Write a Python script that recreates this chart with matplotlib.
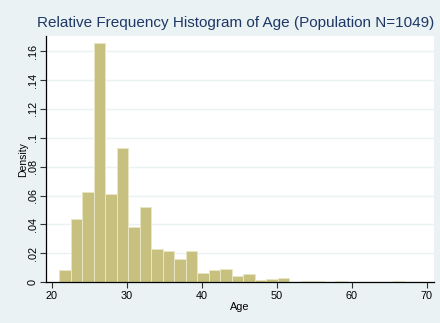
import numpy as np
import matplotlib
matplotlib.use("Agg")
import matplotlib.pyplot as plt

plt.rcParams['font.family'] = ['Liberation Sans', 'DejaVu Sans']

# Data
bin_start = 21.0
bin_end = 67.0
n_bins = 30
counts = [14, 70, 101, 266, 98, 149, 62, 84, 37, 35,
          26, 35, 10, 14, 15, 7, 9, 3, 4, 5,
          0, 1, 1, 0, 1, 0, 0, 0, 0, 1]
N = 1049
x_ticks = [20, 30, 40, 50, 60, 70]
y_ticks = [0, 0.02, 0.04, 0.06, 0.08, 0.10, 0.12, 0.14, 0.16]
y_tick_labels = ["0", ".02", ".04", ".06", ".08", ".1", ".12", ".14", ".16"]
title = "Relative Frequency Histogram of Age (Population N=1049)"

bg = "#EAF2F3"
bar_color = "#C8C07E"
edge_color = "#E9E6C6"
title_color = "#1E3766"

edges = np.linspace(bin_start, bin_end, n_bins + 1)
width = edges[1] - edges[0]
density = np.array(counts) / (N * width)

fig = plt.figure(figsize=(4.4, 3.23), dpi=100, facecolor=bg)
ax = fig.add_axes([46/440, 1 - 282.3/323, (434-46)/440, (282.3-36)/323])
ax.set_facecolor("white")

ax.bar(edges[:-1], density, width=width, align='edge', color=bar_color,
       edgecolor=edge_color, linewidth=0.7, zorder=3)

ax.set_xlim(19.2, 71.0)
ax.set_ylim(0, 0.1704)
ax.set_xticks(x_ticks)
ax.set_yticks(y_ticks)
ax.set_yticklabels(y_tick_labels, rotation=90, va='center')
ax.tick_params(axis='both', direction='out', length=4, width=0.8,
               color='#333333', labelsize=7.8, labelcolor='black', pad=2)

ax.grid(axis='y', color=bg, linewidth=1.0, zorder=0)
ax.set_axisbelow(True)
for s in ['top', 'right']:
    ax.spines[s].set_visible(False)
for s in ['left', 'bottom']:
    ax.spines[s].set_linewidth(0.9)
    ax.spines[s].set_color('black')
ax.spines['bottom'].set_zorder(4)

ax.set_xlabel("Age", fontsize=7.8, labelpad=1)
ax.set_ylabel("Density", fontsize=7.5, labelpad=0)

fig.text(236/440, 1 - 23.5/323, title, ha='center', va='center',
         fontsize=11, color=title_color)

fig.savefig("out.png", dpi=100, facecolor=bg)
